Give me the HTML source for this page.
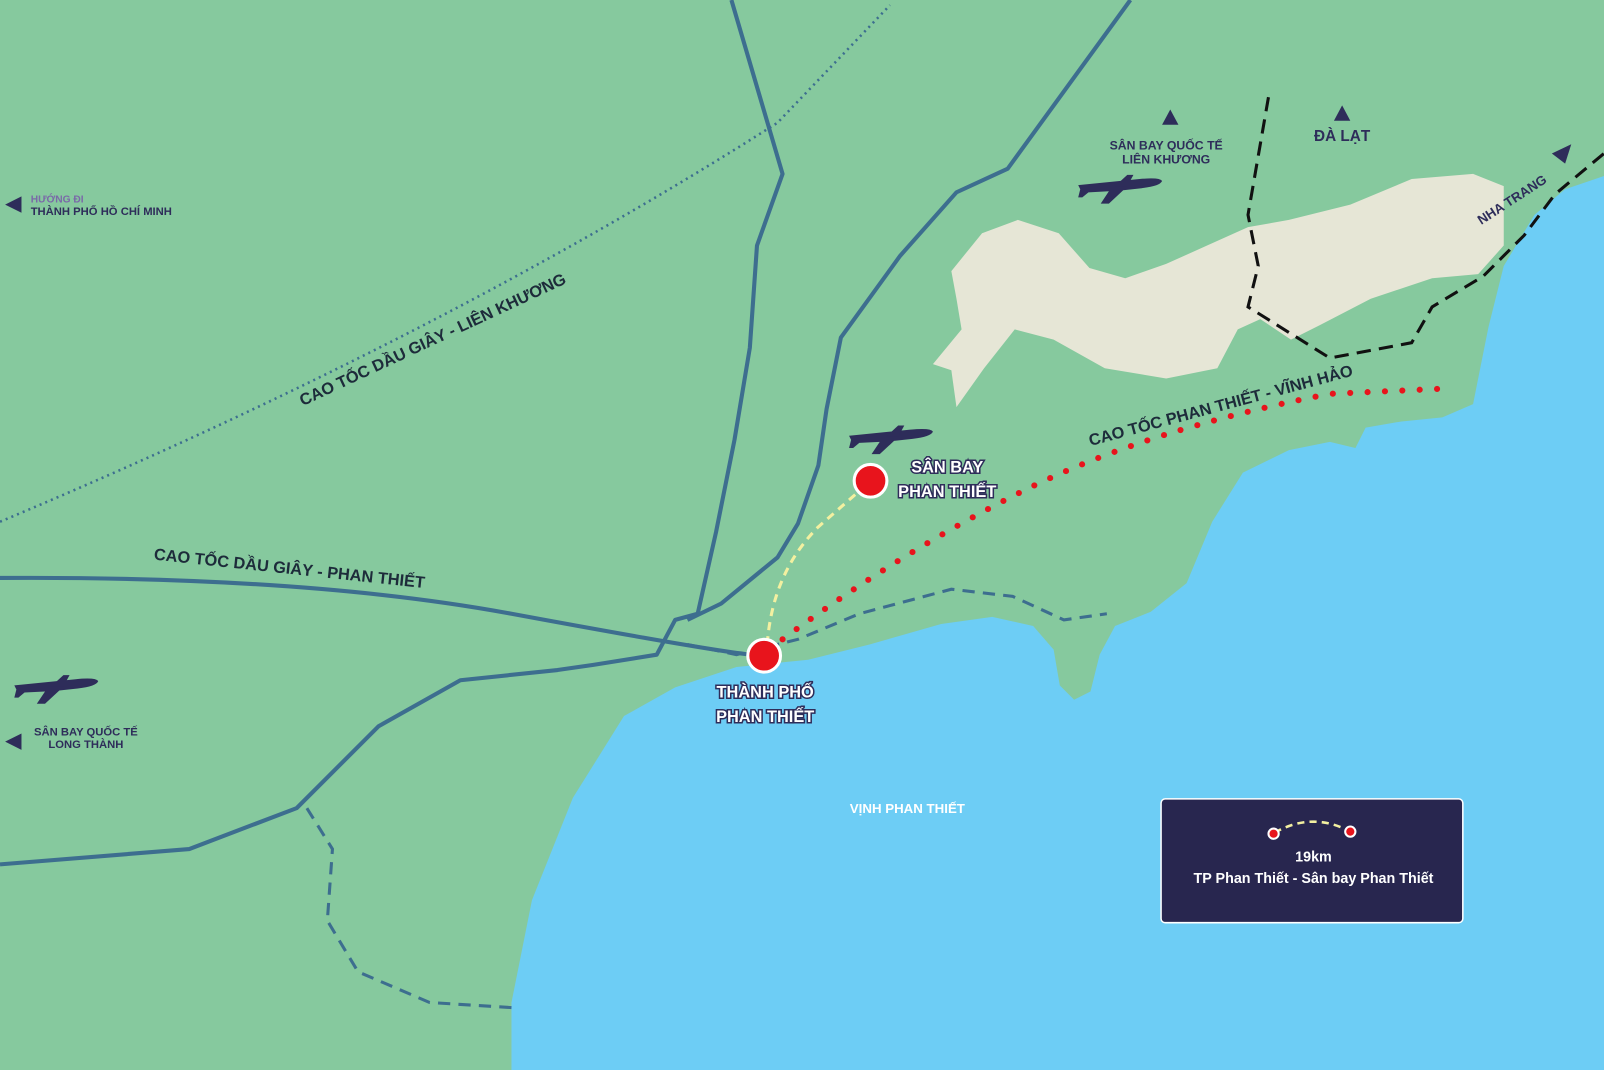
<!DOCTYPE html>
<html><head><meta charset="utf-8"><style>
html,body{margin:0;padding:0;background:#86c99e;}
svg{display:block}
text{font-family:"Liberation Sans","Noto Sans CJK SC",sans-serif;font-weight:bold}
</style></head><body>
<svg width="1604" height="1070" viewBox="0 0 1568 1046" preserveAspectRatio="none" xmlns="http://www.w3.org/2000/svg">
<defs>
<g id="plane">
<path d="M0,8 L60,2 Q80,0 82,4 Q80,9 62,11 L44,13 L30,26 L22,26 L30,14 L10,15 L4,20 L0,20 L2,12 Z" fill="#2e2d5a"/>
<path d="M36,9 L48,-2 L54,-2 L48,9 Z" fill="#2e2d5a"/>
</g>
</defs>
<rect width="1568" height="1046" fill="#86c99e"/>
<!-- sea -->
<path d="M500,1046 L500,980 L520,880 L560,780 L610,700 L660,672 L720,652 L790,645 L850,630 L920,610 L970,603 L1010,612 L1030,635 L1036,670 L1050,684 L1066,676 L1075,640 L1090,612 L1125,598 L1160,570 L1185,510 L1215,462 L1260,440 L1300,432 L1325,438 L1335,418 L1370,412 L1410,408 L1440,395 L1455,320 L1470,260 L1500,210 L1530,185 L1568,172 L1568,1046 Z" fill="#6dcdf5"/>
<!-- beige -->
<path d="M930,265 L960,228 L995,215 L1035,228 L1065,262 L1100,272 L1140,258 L1180,240 L1220,222 L1260,215 L1320,200 L1380,175 L1440,170 L1470,182 L1470,240 L1445,268 L1400,272 L1340,292 L1290,318 L1262,332 L1232,312 L1210,322 L1190,360 L1140,370 L1080,360 L1030,332 L992,322 L962,360 L935,398 L930,362 L912,356 L940,322 L935,292 Z" fill="#e6e6d6"/>
<!-- roads -->
<g fill="none" stroke="#3d6e8f" stroke-width="4" stroke-linejoin="round">
<path d="M715,0 L765,170 L740,240 L733,340 L718,430 L700,520 L682,600 L660,606 L642,640 L580,650 L545,655 L450,665 L370,710 L290,790 L185,830 L0,845"/>
<path d="M1105,0 L985,165 L935,188 L880,250 L822,330 L808,400 L800,455 L780,512 L760,545 L705,590 L672,606"/>
<path d="M0,565 Q300,563 500,600 T735,640"/>
</g>
<path d="M0,510 Q430,330 760,120 L870,5" fill="none" stroke="#3d6e8f" stroke-width="2.5" stroke-dasharray="2,4"/>
<g fill="none" stroke="#3d6e8f" stroke-width="3" stroke-dasharray="12,8">
<path d="M300,790 L325,830 L320,900 L350,950 L420,980 L500,985"/>
<path d="M672,630 L720,640 L780,625 L840,600 L930,576 L990,583 L1040,606 L1082,600"/>
</g>
<path d="M1240,95 L1220,210 L1230,260 L1220,300 L1300,350 L1380,335 L1400,300 L1450,270 L1490,230 L1520,190 L1568,150" fill="none" stroke="#111" stroke-width="3" stroke-dasharray="14,8"/>
<path d="M765,625 Q880,540 1000,480 T1300,385 L1410,380" fill="none" stroke="#e8141c" stroke-width="6" stroke-linecap="round" stroke-dasharray="0,17"/>
<path d="M750,630 Q755,560 800,515 L840,480" fill="none" stroke="#f3f0a0" stroke-width="3" stroke-dasharray="8,6"/>
<!-- points -->
<circle cx="851" cy="470" r="16" fill="#e8141c" stroke="#fff" stroke-width="3"/>
<circle cx="747" cy="641" r="16" fill="#e8141c" stroke="#fff" stroke-width="3"/>
<!-- planes -->
<use href="#plane" transform="translate(830,418)"/>
<use href="#plane" transform="translate(1054,173)"/>
<use href="#plane" transform="translate(14,662)"/>
<!-- triangles -->
<path d="M1136,122 L1144,107 L1152,122Z M1304,118 L1312,103 L1320,118Z" fill="#2e2d5a"/>
<path d="M5,200 L21,192 L21,208Z M5,725 L21,717 L21,733Z" fill="#2e2d5a"/>
<path d="M1517,150 L1536,141 L1530,160Z" fill="#2e2d5a"/>
<!-- labels -->
<g fill="#1d2b3a" font-size="16">
<text transform="translate(296,397) rotate(-25)">CAO TỐC DẦU GIÂY - LIÊN KHƯƠNG</text>
<text transform="translate(150,547) rotate(6)">CAO TỐC DẦU GIÂY - PHAN THIẾT</text>
<text transform="translate(1066,436) rotate(-15)">CAO TỐC PHAN THIẾT - VĨNH HẢO</text>
</g>
<g fill="#2e2d5a" font-size="12">
<text x="1140" y="146" text-anchor="middle">SÂN BAY QUỐC TẾ</text>
<text x="1140" y="160" text-anchor="middle">LIÊN KHƯƠNG</text>
<text x="1312" y="138" text-anchor="middle" font-size="15">ĐÀ LẠT</text>
<text transform="translate(1448,220) rotate(-33)" font-size="13">NHA TRANG</text>
<text x="30" y="198" font-size="10" fill="#7a6aa8">HƯỚNG ĐI</text>
<text x="30" y="210" font-size="11">THÀNH PHỐ HỒ CHÍ MINH</text>
<text x="84" y="719" text-anchor="middle" font-size="11">SÂN BAY QUỐC TẾ</text>
<text x="84" y="731" text-anchor="middle" font-size="11">LONG THÀNH</text>
</g>
<g fill="#fff" stroke="#2e2d5a" stroke-width="3" paint-order="stroke" font-size="16" text-anchor="middle">
<text x="926" y="462">SÂN BAY</text>
<text x="926" y="486">PHAN THIẾT</text>
<text x="748" y="682">THÀNH PHỐ</text>
<text x="748" y="706">PHAN THIẾT</text>
</g>
<text x="887" y="795" fill="#fff" font-size="13" text-anchor="middle">VỊNH PHAN THIẾT</text>
<!-- legend -->
<rect x="1135" y="781" width="295" height="121" rx="4" fill="#28264f" stroke="#fff" stroke-width="1.5"/>
<path d="M1246,814 Q1283,793 1320,813" fill="none" stroke="#f3f0a0" stroke-width="2.5" stroke-dasharray="7,5"/>
<circle cx="1245" cy="815" r="5" fill="#e8141c" stroke="#fff" stroke-width="2"/>
<circle cx="1320" cy="813" r="5" fill="#e8141c" stroke="#fff" stroke-width="2"/>
<text x="1284" y="842" fill="#fff" font-size="14" text-anchor="middle">19km</text>
<text x="1284" y="863" fill="#fff" font-size="14" text-anchor="middle">TP Phan Thiết - Sân bay Phan Thiết</text>
</svg>
</body></html>
